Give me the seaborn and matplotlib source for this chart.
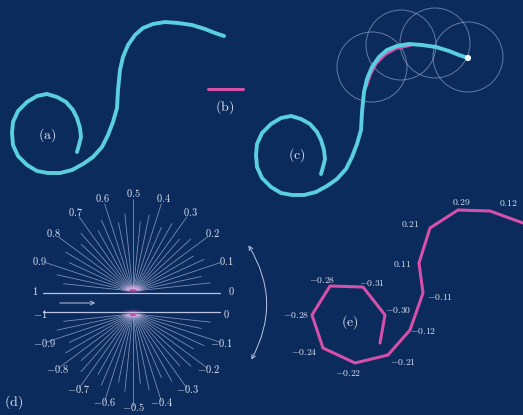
import numpy as np
import matplotlib
matplotlib.use('Agg')
import matplotlib.pyplot as plt
import seaborn as sns
from matplotlib.collections import LineCollection
from matplotlib.patches import Circle, Ellipse, FancyArrowPatch

# colours
bg = '#0a2b5c'
cyan = '#5bcfe0'
pink = '#d64fa8'
pale = '#dfe5f2'
ray_col = '#c6cdf0'

# S-shaped curve of panel (a) (pixel coords)
curve_x = [77, 79, 81, 80, 77, 73, 66, 57, 47, 37, 27, 18, 13, 12, 13, 18, 27, 37, 48, 60,
           72, 83, 93, 102, 108, 113, 117, 118, 120, 123, 128, 135, 143, 153, 165, 178,
           192, 205, 215, 224]
curve_y = [152, 145, 137, 128, 118, 110, 102, 97, 94, 96, 102, 111, 122, 133, 145, 156, 165,
           171, 173, 173, 170, 164, 157, 147, 135, 122, 108, 90, 70, 57, 45, 35, 28, 24, 22,
           23, 25, 29, 33, 36]
# panel (c) is the same curve moved
shift_c = (244, 22)

# pink stretch under curve (c)
pink_c_x = [366, 370, 376, 385, 396, 410]
pink_c_y = [86, 74, 63, 54, 48, 45]

# circles of panel (c)
circle_x = [372, 401, 435, 468]
circle_y = [67, 45, 43, 57]
circle_r = 35

# segment (b)
seg_b_x = [208, 243]
seg_b_y = [89, 89]

# panel (e): polyline with its values
e_x = [380, 385, 363, 330, 312, 323, 355, 388, 410, 423, 419, 430, 458, 490, 523, 540]
e_y = [343, 315, 287, 286, 315, 348, 363, 355, 330, 293, 263, 228, 210, 211, 223, 232]
e_labels = ['-0.28', '-0.31', '-0.28', '-0.30', '-0.24', '-0.22', '-0.21',
            '-0.12', '-0.11', '0.11', '0.21', '0.29', '0.12']
e_lab_x = [322, 372, 296, 398, 304, 348, 403, 423, 440, 402, 410, 461, 508]
e_lab_y = [280, 283, 315, 310, 352, 373, 362, 331, 297, 264, 224, 202, 203]

# panel (d): dial values
upper_vals = [0, 0.1, 0.2, 0.3, 0.4, 0.5, 0.6, 0.7, 0.8, 0.9, 1]
lower_vals = [0, -0.1, -0.2, -0.3, -0.4, -0.5, -0.6, -0.7, -0.8, -0.9, -1]
upper_center = (133, 291)
lower_center = (133, 314)
upper_r = 98
lower_r = 93

sns.set_theme(style='white', rc={'axes.facecolor': bg, 'figure.facecolor': bg})
plt.rcParams['mathtext.fontset'] = 'cm'
plt.rcParams['font.family'] = ['DejaVu Serif']
plt.rcParams['lines.solid_joinstyle'] = 'round'
plt.rcParams['lines.solid_capstyle'] = 'round'

fig = plt.figure(figsize=(5.23, 4.15), dpi=100)
ax = fig.add_axes([0, 0, 1, 1])
ax.set_xlim(0, 523)
ax.set_ylim(415, 0)
ax.axis('off')


def tex(s):
    return '$' + s + '$'


# panel (a)
sns.lineplot(x=curve_x, y=curve_y, sort=False, estimator=None, color=cyan, lw=2.8, ax=ax)
ax.text(47, 135, tex(r'\mathrm{(a)}'), color=pale, fontsize=10, ha='center', va='center')

# panel (b)
sns.lineplot(x=seg_b_x, y=seg_b_y, sort=False, estimator=None, color=pink, lw=2.2, ax=ax)
ax.text(225, 107, tex(r'\mathrm{(b)}'), color=pale, fontsize=10, ha='center', va='center')

# panel (c)
for cx, cy in zip(circle_x, circle_y):
    ax.add_patch(Circle((cx, cy), circle_r, fill=False, ec='#9fb0d4', lw=0.7, alpha=0.6))
sns.lineplot(x=pink_c_x, y=pink_c_y, sort=False, estimator=None, color=pink, lw=2.8, ax=ax)
cx_c = np.array(curve_x) + shift_c[0]
cy_c = np.array(curve_y) + shift_c[1]
sns.lineplot(x=cx_c, y=cy_c, sort=False, estimator=None, color=cyan, lw=2.8, ax=ax)
ax.scatter([cx_c[-1]], [cy_c[-1]], s=20, color='#f2fbff', zorder=5, edgecolor='none')
ax.text(297, 155, tex(r'\mathrm{(c)}'), color=pale, fontsize=10, ha='center', va='center')

# panel (d): rays
segs = []
for (cx, cy), sgn in [(upper_center, 1), (lower_center, -1)]:
    for k in range(1, 30):
        th = k * np.pi / 30
        length = 92 if k % 3 == 0 else (78 if k % 3 == 1 else 70)
        x0 = cx + 4 * np.cos(th)
        y0 = cy - sgn * 2 * np.sin(th)
        x1 = cx + length * np.cos(th)
        y1 = cy - sgn * length * np.sin(th)
        segs.append([(x0, y0), (x1, y1)])
ax.add_collection(LineCollection(segs, colors=ray_col, linewidths=0.6, alpha=0.6))

# horizontal lines and small arrow
ax.plot([43, 220], [293, 293], color='#b9c5e2', lw=0.9)
ax.plot([43, 220], [312, 312], color='#b9c5e2', lw=0.9)
ax.add_patch(FancyArrowPatch((57, 303), (98, 303), arrowstyle='->', mutation_scale=7,
                             color='#b9c5e2', lw=0.7))

# pink glow at the hubs
for (cx, cy) in [(133, 289), (133, 314)]:
    for w, h, a in [(24, 9, 0.25), (16, 6, 0.5), (9, 3.5, 0.9)]:
        ax.add_patch(Ellipse((cx, cy), w, h, color=pink, alpha=a, lw=0))

# dial labels
for vals, (cx, cy), sgn, r in [(upper_vals, upper_center, 1, upper_r),
                               (lower_vals, lower_center, -1, lower_r)]:
    for v in vals:
        th = abs(v) * np.pi
        lx = cx + r * np.cos(th)
        ly = cy - sgn * r * np.sin(th)
        ax.text(lx, ly, tex('%g' % v), color=pale, fontsize=7.5, ha='center', va='center')

# curved double arrow on the right of the dial
ax.add_patch(FancyArrowPatch((247, 243), (250, 362), connectionstyle='arc3,rad=-0.3',
                             arrowstyle='<->', mutation_scale=7, color='#b9c5e2', lw=0.7))
ax.text(14, 402, tex(r'\mathrm{(d)}'), color=pale, fontsize=10, ha='center', va='center')

# panel (e)
sns.lineplot(x=e_x, y=e_y, sort=False, estimator=None, color=pink, lw=2.2, ax=ax)
for s, lx, ly in zip(e_labels, e_lab_x, e_lab_y):
    ax.text(lx, ly, tex(s), color=pale, fontsize=7, ha='center', va='center')
ax.text(350, 322, tex(r'\mathrm{(e)}'), color=pale, fontsize=10, ha='center', va='center')

fig.savefig('out.png', dpi=100, facecolor=bg)
